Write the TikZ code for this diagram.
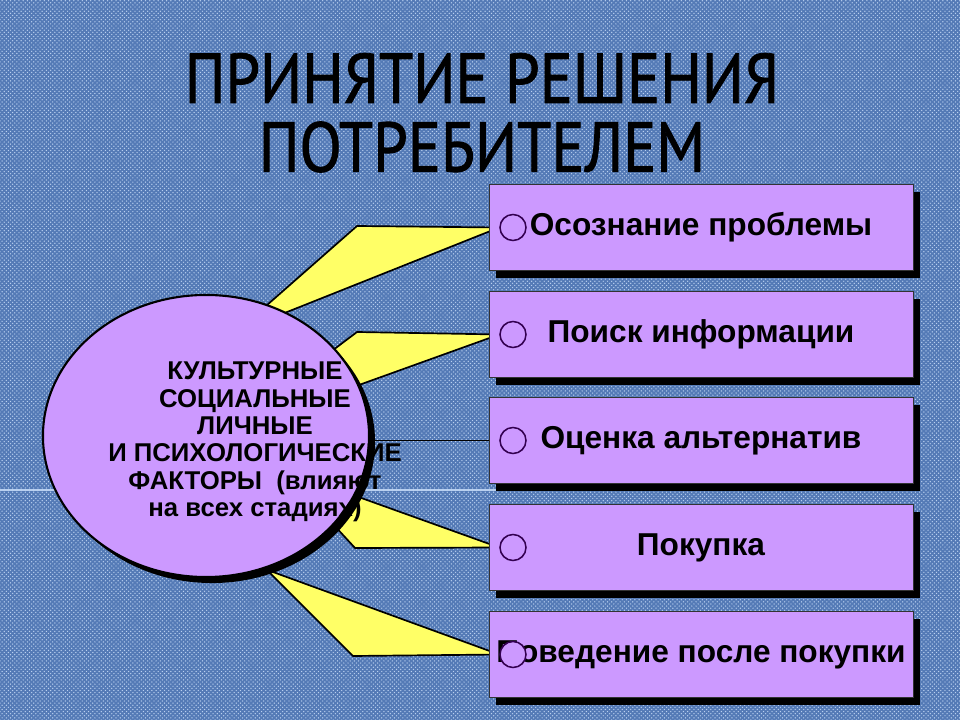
\documentclass[tikz,border=0pt]{standalone}
\usepackage{fontspec}
\setmainfont{Liberation Sans}
\newfontfamily\titlefont[FakeStretch=0.88,FakeBold=1.2]{PT Sans}
\usepackage{tikz}
\usetikzlibrary{shapes.geometric}
\usetikzlibrary{shadows,patterns,positioning}
\definecolor{denim}{RGB}{84,122,182}
\definecolor{denimlight}{RGB}{185,208,240}
\definecolor{lilac}{RGB}{204,153,255}
\definecolor{lemon}{RGB}{255,255,102}
\definecolor{plum}{RGB}{51,0,80}
\tikzstyle{title} = [font=\titlefont\fontsize{50}{55}\selectfont, inner sep=0pt]
\tikzstyle{stage} = [draw=black!80, fill=lilac, minimum width=10.6cm, minimum height=2.15cm, font=\bfseries\fontsize{22.5}{27}\selectfont, drop shadow={shadow xshift=0.18cm, shadow yshift=-0.18cm, fill=black, opacity=1}]
\tikzstyle{port} = [circle, draw=plum, line width=1.1pt, fill=lilac, minimum size=0.65cm, inner sep=0pt]
\tikzstyle{factor} = [ellipse, draw=black, line width=1.5pt, fill=lilac, minimum width=8.15cm, minimum height=7.05cm, drop shadow={shadow xshift=0.15cm, shadow yshift=-0.15cm, fill=black, opacity=1}]
\tikzstyle{fan} = [draw=black, line width=1.2pt, fill=lemon]
\tikzstyle{line} = [draw, line width=1.0pt]
\pgfdeclarelayer{back}
\pgfdeclarelayer{mid}
\pgfsetlayers{back,mid,main}

\begin{document}
\begin{tikzpicture}[x=0.025cm, y=-0.025cm]
	\useasboundingbox (0,0) rectangle (960,720);
	% -------------- Background --------------
	\begin{pgfonlayer}{back}
	\fill[pattern=crosshatch dots, pattern color=denimlight, preaction={fill=denim}] (0,0) rectangle (960,720);
	\draw[denimlight, line width=0.8pt] (0,490) -- (505,490);
	\end{pgfonlayer}
	% -------------- Title --------------
	\node[title] (t1) at (482,78)  {ПРИНЯТИЕ РЕШЕНИЯ};
	\node[title] (t2) at (482,147) {ПОТРЕБИТЕЛЕМ};
	% -------------- Factors --------------
	\node[factor] (fac) at (206,436) {};
	\node[align=center, font=\bfseries\fontsize{18.3}{19.4}\selectfont] (txt) at (255,442)
		{КУЛЬТУРНЫЕ\\СОЦИАЛЬНЫЕ\\ЛИЧНЫЕ\\И ПСИХОЛОГИЧЕСКИЕ\\ФАКТОРЫ~~(влияют\\на всех стадиях)};
	% -------------- Stages --------------
	\node[stage] (s1) at (701,227.5) {Осознание проблемы};
	\node[stage] (s2) at (701,334.5) {Поиск информации};
	\node[stage] (s3) at (701,440.5) {Оценка альтернатив};
	\node[stage] (s4) at (701,547.5) {Покупка};
	\node[stage] (s5) at (701,654.5) {Поведение после покупки};
	\node[port] (c1) at (513,227.5) {};
	\node[port] (c2) at (513,334.5) {};
	\node[port] (c3) at (513,440.5) {};
	\node[port] (c4) at (513,547.5) {};
	\node[port] (c5) at (513,654.5) {};
	% -------------- Fans --------------
	\begin{pgfonlayer}{mid}
	\draw[fan] (c1.west) -- (357,226) -- (250,320) -- (262,322) -- cycle;
	\draw[fan] (c2.west) -- (357,332) -- (300,375) -- (320,399) -- cycle;
	\draw[fan] (c4.west) -- (300,476) -- (320,510) -- (355,548) -- cycle;
	\draw[fan] (c5.west) -- (240,560) -- (255,558) -- (353,656) -- cycle;
	\draw[line] (fac.east |- c3.west) -- (c3.west);
	\end{pgfonlayer}
\end{tikzpicture}
\end{document}
